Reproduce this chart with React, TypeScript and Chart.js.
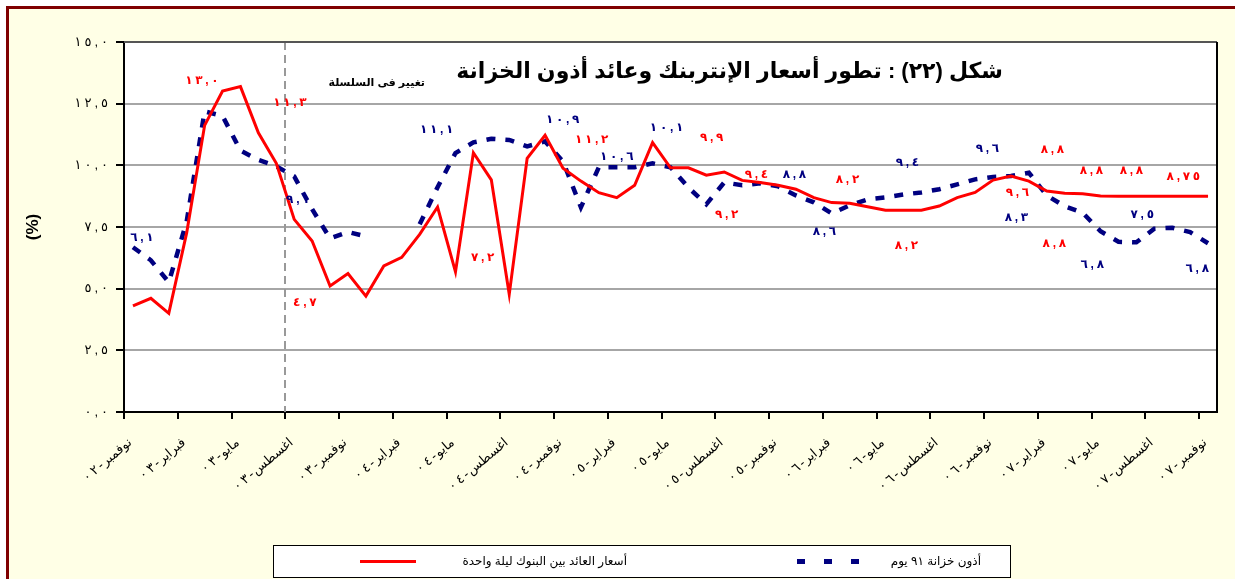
import React, { useEffect, useRef } from "react";
import { Chart, registerables } from "chart.js";

Chart.register(...registerables);

// ---------- data ----------
const months = [
  "نوفمبر-٠٢", "ديسمبر-٠٢", "يناير-٠٣", "فبراير-٠٣", "مارس-٠٣", "ابريل-٠٣", "مايو-٠٣", "يونيو-٠٣", "يوليو-٠٣", "اغسطس-٠٣",
  "سبتمبر-٠٣", "اكتوبر-٠٣", "نوفمبر-٠٣", "ديسمبر-٠٣", "يناير-٠٤", "فبراير-٠٤", "مارس-٠٤", "ابريل-٠٤", "مايو-٠٤", "يونيو-٠٤",
  "يوليو-٠٤", "اغسطس-٠٤", "سبتمبر-٠٤", "اكتوبر-٠٤", "نوفمبر-٠٤", "ديسمبر-٠٤", "يناير-٠٥", "فبراير-٠٥", "مارس-٠٥", "ابريل-٠٥",
  "مايو-٠٥", "يونيو-٠٥", "يوليو-٠٥", "اغسطس-٠٥", "سبتمبر-٠٥", "اكتوبر-٠٥", "نوفمبر-٠٥", "ديسمبر-٠٥", "يناير-٠٦", "فبراير-٠٦",
  "مارس-٠٦", "ابريل-٠٦", "مايو-٠٦", "يونيو-٠٦", "يوليو-٠٦", "اغسطس-٠٦", "سبتمبر-٠٦", "اكتوبر-٠٦", "نوفمبر-٠٦", "ديسمبر-٠٦",
  "يناير-٠٧", "فبراير-٠٧", "مارس-٠٧", "ابريل-٠٧", "مايو-٠٧", "يونيو-٠٧", "يوليو-٠٧", "اغسطس-٠٧", "سبتمبر-٠٧", "اكتوبر-٠٧",
  "نوفمبر-٠٧",
];

const overnightRate = [
  4.30, 4.61, 4.00, 7.27, 11.62, 13.01, 13.19, 11.32, 10.08, 7.81,
  6.93, 5.11, 5.61, 4.70, 5.92, 6.27, 7.20, 8.31, 5.68, 10.51,
  9.41, 4.77, 10.28, 11.22, 9.88, 9.36, 8.89, 8.69, 9.19, 10.92,
  9.90, 9.90, 9.60, 9.73, 9.39, 9.30, 9.19, 9.03, 8.69, 8.49,
  8.46, 8.32, 8.18, 8.18, 8.18, 8.35, 8.69, 8.90, 9.40, 9.57,
  9.36, 8.96, 8.87, 8.85, 8.76, 8.75, 8.75, 8.75, 8.75, 8.75,
  8.75,
];

const tBill91 = [
  6.68, 6.15, 5.26, 7.73, 12.19, 12.00, 10.60, 10.22, 9.96, 9.55,
  8.22, 7.04, 7.30, 7.12, null, null, 7.61, 9.11, 10.50, 10.93,
  11.08, 11.03, 10.77, 10.97, 10.16, 8.30, 9.92, 9.92, 9.92, 10.08,
  9.92, 9.10, 8.42, 9.31, 9.19, 9.27, 9.15, 8.78, 8.50, 8.05,
  8.38, 8.62, 8.70, 8.82, 8.90, 9.03, 9.23, 9.43, 9.53, 9.57,
  9.70, 8.78, 8.34, 8.08, 7.33, 6.90, 6.88, 7.43, 7.47, 7.29,
  6.84,
];

const yTickValues = [0, 2.5, 5, 7.5, 10, 12.5, 15];
const yTickLabels = ["٠,٠", "٢,٥", "٥,٠", "٧,٥", "١٠,٠", "١٢,٥", "١٥,٠"];
const labelEvery = 3;

const seriesNames = ["أسعار العائد بين البنوك ليلة واحدة", "أذون خزانة ٩١ يوم"];
const chartTitle = "شكل (٢٢) : تطور أسعار الإنتربنك وعائد أذون الخزانة";
const breakNote = "تغيير فى السلسلة";
const breakIndex = 9;
const yAxisTitle = "(%)";

// value notes anchored in data space: [category index, value]
const valueNotes = [
  { text: "١٣,٠", series: 0, at: [3.85, 13.44] },
  { text: "١١,٣", series: 0, at: [8.76, 12.55] },
  { text: "٤,٧", series: 0, at: [9.59, 4.45] },
  { text: "٦,١", series: 1, at: [0.5, 7.08] },
  { text: "٩,١", series: 1, at: [9.2, 8.62] },
  { text: "١١,١", series: 1, at: [16.95, 11.46] },
  { text: "٧,٢", series: 0, at: [19.52, 6.27] },
  { text: "١٠,٩", series: 1, at: [23.98, 11.86] },
  { text: "١١,٢", series: 0, at: [25.6, 11.05] },
  { text: "١٠,٦", series: 1, at: [27.0, 10.36] },
  { text: "١٠,١", series: 1, at: [29.78, 11.54] },
  { text: "٩,٩", series: 0, at: [32.3, 11.13] },
  { text: "٩,٢", series: 0, at: [33.13, 8.01] },
  { text: "٩,٤", series: 0, at: [34.8, 9.64] },
  { text: "٨,٨", series: 1, at: [36.92, 9.64] },
  { text: "٨,٦", series: 1, at: [38.59, 7.29] },
  { text: "٨,٢", series: 0, at: [39.88, 9.43] },
  { text: "٨,٢", series: 0, at: [43.17, 6.76] },
  { text: "٩,٤", series: 1, at: [43.22, 10.12] },
  { text: "٩,٦", series: 1, at: [47.69, 10.69] },
  { text: "٩,٦", series: 0, at: [49.36, 8.91] },
  { text: "٨,٣", series: 1, at: [49.3, 7.89] },
  { text: "٨,٨", series: 0, at: [51.31, 10.65] },
  { text: "٨,٨", series: 0, at: [51.42, 6.84] },
  { text: "٦,٨", series: 1, at: [53.54, 5.99] },
  { text: "٨,٨", series: 0, at: [53.49, 9.8] },
  { text: "٨,٨", series: 0, at: [55.72, 9.8] },
  { text: "٧,٥", series: 1, at: [56.33, 8.01] },
  { text: "٨,٧٥", series: 0, at: [58.62, 9.55] },
  { text: "٦,٨", series: 1, at: [59.4, 5.79] },
];

// ---------- styles ----------
const RED = "#FF0000";
const NAVY = "#000080";
const FONT = "'Liberation Sans', 'DejaVu Sans', sans-serif";
const W = 1235;
const H = 579;

// draws a numeric string (digits/comma only) glyph by glyph with extra spacing
function drawSpaced(ctx: CanvasRenderingContext2D, text: string, x: number, y: number, spacing: number, align: string) {
  const chars = Array.from(text);
  const widths = chars.map((c) => ctx.measureText(c).width);
  const total = widths.reduce((s, w) => s + w, 0) + spacing * (chars.length - 1);
  let cx = align === "left" ? x : align === "right" ? x - total : x - total / 2;
  const prev = ctx.textAlign;
  ctx.textAlign = "left";
  chars.forEach((c, i) => {
    ctx.fillText(c, cx, y);
    cx += widths[i] + spacing;
  });
  ctx.textAlign = prev;
  return total;
}

const decorPlugin = {
  id: "decor",
  beforeDraw(chart: any) {
    const { ctx, chartArea: a } = chart;
    ctx.save();
    ctx.fillStyle = "#FFFFFF";
    ctx.fillRect(a.left, a.top, a.right - a.left, a.bottom - a.top);
    ctx.restore();
  },
  beforeDatasetsDraw(chart: any) {
    const { ctx, chartArea: a, scales } = chart;
    const xs = scales.x;
    const ys = scales.y;
    const half = (xs.getPixelForValue(1) - xs.getPixelForValue(0)) / 2;
    const px = Math.round(xs.getPixelForValue(breakIndex) - half);
    ctx.save();
    ctx.strokeStyle = "#999999";
    ctx.lineWidth = 2;
    ctx.setLineDash([8, 5]);
    ctx.beginPath();
    ctx.moveTo(px, a.top);
    ctx.lineTo(px, a.bottom);
    ctx.stroke();
    ctx.setLineDash([]);
    // plot border top & right
    ctx.strokeStyle = "#555555";
    ctx.lineWidth = 2;
    ctx.beginPath();
    ctx.moveTo(a.left, a.top);
    ctx.lineTo(a.right, a.top);
    ctx.stroke();
    ctx.strokeStyle = "#000000";
    ctx.beginPath();
    ctx.moveTo(a.right, a.top);
    ctx.lineTo(a.right, a.bottom + 1);
    ctx.stroke();

    // y tick labels
    ctx.fillStyle = "#000";
    ctx.font = `13px ${FONT}`;
    ctx.textBaseline = "middle";
    yTickValues.forEach((v, i) => {
      drawSpaced(ctx, yTickLabels[i], a.left - 16, ys.getPixelForValue(v), 3, "right");
    });

    // x tick labels (rotated)
    const ang = (40 * Math.PI) / 180;
    for (let i = 0; i < months.length; i += labelEvery) {
      const [word, year] = months[i].split("-");
      ctx.save();
      ctx.translate(xs.getPixelForValue(i) - half + 2, a.bottom + 24);
      ctx.rotate(-ang);
      ctx.font = `13px ${FONT}`;
      ctx.textAlign = "right";
      ctx.textBaseline = "top";
      ctx.direction = "ltr";
      ctx.fillText(word, 0, 0);
      const w1 = ctx.measureText(word).width;
      ctx.fillText("-", -w1 - 1, 0);
      const w2 = ctx.measureText("-").width + 3;
      drawSpaced(ctx, year, -w1 - w2, 0, 3, "right");
      ctx.restore();
    }

    // break note
    ctx.fillStyle = "#000";
    ctx.font = `bold 11px ${FONT}`;
    ctx.direction = "rtl";
    ctx.textAlign = "right";
    ctx.textBaseline = "middle";
    ctx.fillText(breakNote, a.left + 301, a.top + 41);
    // title
    ctx.font = `bold 22px ${FONT}`;
    ctx.fillText(chartTitle, a.left + 879, a.top + 30);
    ctx.restore();
  },
  afterDatasetsDraw(chart: any) {
    const { ctx, scales } = chart;
    ctx.save();
    ctx.font = `bold 12px ${FONT}`;
    ctx.textBaseline = "middle";
    ctx.direction = "ltr";
    for (const n of valueNotes) {
      ctx.fillStyle = n.series === 0 ? RED : NAVY;
      drawSpaced(ctx, n.text, scales.x.getPixelForValue(n.at[0]), scales.y.getPixelForValue(n.at[1]), 2.7, "center");
    }
    ctx.restore();
  },
  afterDraw(chart: any) {
    const { ctx, chartArea: a } = chart;
    ctx.save();
    // y axis title
    ctx.translate(33, (a.top + a.bottom) / 2);
    ctx.rotate(-Math.PI / 2);
    ctx.font = `bold 17px ${FONT}`;
    ctx.fillStyle = "#000";
    ctx.textAlign = "center";
    ctx.textBaseline = "middle";
    ctx.fillText(yAxisTitle, 0, 0);
    ctx.restore();

    // legend
    ctx.save();
    const lx = 273.5, ly = 545.5, lw = 737, lh = 32;
    ctx.fillStyle = "#FFFFFF";
    ctx.fillRect(lx, ly, lw, lh);
    ctx.strokeStyle = "#000";
    ctx.lineWidth = 1;
    ctx.strokeRect(lx, ly, lw, lh);
    const cy = ly + 16;
    ctx.strokeStyle = RED;
    ctx.lineWidth = 3;
    ctx.beginPath();
    ctx.moveTo(360, cy);
    ctx.lineTo(416, cy);
    ctx.stroke();
    ctx.strokeStyle = NAVY;
    ctx.lineWidth = 5;
    ctx.setLineDash([8, 19]);
    ctx.beginPath();
    ctx.moveTo(797, cy);
    ctx.lineTo(860, cy);
    ctx.stroke();
    ctx.setLineDash([]);
    ctx.fillStyle = "#000";
    ctx.font = `12px ${FONT}`;
    ctx.direction = "rtl";
    ctx.textAlign = "right";
    ctx.textBaseline = "middle";
    ctx.fillText(seriesNames[0], 627, cy);
    ctx.fillText(seriesNames[1], 981, cy);
    ctx.restore();
  },
};

export default function App() {
  const ref = useRef<HTMLCanvasElement | null>(null);

  useEffect(() => {
    if (!ref.current) return;
    const chart = new Chart(ref.current, {
      type: "line",
      data: {
        labels: months,
        datasets: [
          {
            label: seriesNames[0],
            data: overnightRate,
            borderColor: RED,
            borderWidth: 3,
            pointRadius: 0,
            tension: 0,
            fill: false,
          },
          {
            label: seriesNames[1],
            data: tBill91,
            borderColor: NAVY,
            borderWidth: 4.5,
            borderDash: [9, 10],
            borderCapStyle: "butt",
            pointRadius: 0,
            tension: 0,
            fill: false,
            spanGaps: false,
          },
        ],
      },
      options: {
        responsive: false,
        animation: false,
        devicePixelRatio: 1,
        layout: { padding: { left: 0, right: 18, top: 42, bottom: 67 } },
        plugins: {
          legend: { display: false },
          title: { display: false },
          tooltip: { enabled: false },
        },
        scales: {
          x: {
            type: "category",
            offset: true,
            afterFit: (s: any) => {
              s.height = 100;
            },
            grid: {
              offset: true,
              drawOnChartArea: false,
              drawTicks: true,
              tickLength: 7,
              lineWidth: 2,
              tickWidth: 2,
              color: "transparent",
              tickColor: (c: any) =>
                typeof c.index === "number" && c.index % labelEvery === 0 ? "#000" : "transparent",
            },
            border: { display: true, color: "#000", width: 2 },
            ticks: { display: false, autoSkip: false, maxRotation: 0 },
          },
          y: {
            min: 0,
            max: 15,
            afterFit: (s: any) => {
              s.width = 124;
            },
            grid: {
              color: "#A6A6A6",
              lineWidth: 2,
              drawTicks: true,
              tickLength: 8,
              tickColor: "#000",
              tickWidth: 2,
            },
            border: { display: true, color: "#000", width: 2 },
            ticks: { display: false, stepSize: 2.5 },
          },
        },
      },
      plugins: [decorPlugin],
    });
    return () => chart.destroy();
  }, []);

  return (
    <div style={{ position: "fixed", left: 0, top: 0, width: W, height: H, overflow: "hidden", background: "#FFFFFF" }}>
      <div
        style={{
          position: "absolute",
          left: 6,
          top: 6,
          width: 1300,
          height: 700,
          border: "3px solid #800000",
          background: "#FFFFE6",
        }}
      />
      <canvas ref={ref} width={W} height={H} style={{ position: "absolute", left: 0, top: 0, width: W, height: H }} />
    </div>
  );
}
